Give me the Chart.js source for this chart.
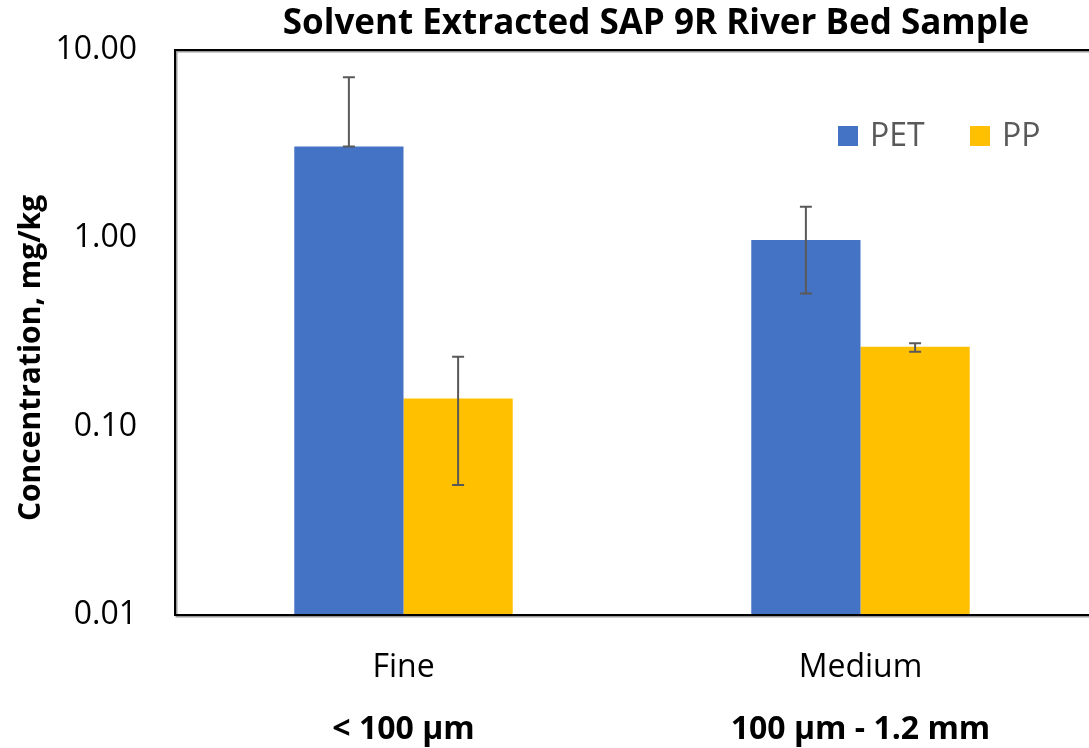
<!DOCTYPE html>
<html>
<head>
<meta charset="utf-8">
<script src="https://cdn.jsdelivr.net/npm/chart.js@4"></script>
<style>
  html, body { margin: 0; background: #fff; }
  #wrap { width: 1089px; height: 748px; }
</style>
</head>
<body>
<div id="wrap"><canvas id="chart"></canvas></div>
<script>
const categories = ["Fine", "Medium"];
const sizeRanges = ["< 100 µm", "100 µm - 1.2 mm"];
const petValues = [3.07, 0.98];
const petHigh = [7.16, 1.47];
const petLow = [3.07, 0.51];
const ppValues = [0.141, 0.266];
const ppHigh = [0.235, 0.277];
const ppLow = [0.049, 0.250];
const yTicks = [0.01, 0.1, 1, 10];

const FONT = "'Open Sans', 'DejaVu Sans', sans-serif";

// box round the plot area, with a soft grey shadow like the original
const frame = {
  id: "frame",
  afterDatasetsDraw(chart) {
    const { ctx, chartArea: a } = chart;
    ctx.save();
    ctx.strokeStyle = "#9a9a9a";
    ctx.lineWidth = 2;
    ctx.strokeRect(a.left + 1.5, a.top + 1.5, a.right - a.left, a.bottom - a.top);
    ctx.strokeStyle = "#000";
    ctx.lineWidth = 2;
    ctx.strokeRect(a.left, a.top, a.right - a.left + 2, a.bottom - a.top);
    ctx.restore();
  }
};

// error bars from the high/low arrays
const errorBars = {
  id: "errorBars",
  afterDatasetsDraw(chart) {
    const { ctx } = chart;
    const y = chart.scales.y;
    ctx.save();
    ctx.strokeStyle = "#595959";
    ctx.lineWidth = 2;
    chart.data.datasets.forEach((ds, di) => {
      chart.getDatasetMeta(di).data.forEach((bar, i) => {
        const top = y.getPixelForValue(ds.high[i]);
        const bot = y.getPixelForValue(ds.low[i]);
        ctx.beginPath();
        ctx.moveTo(bar.x, top);
        ctx.lineTo(bar.x, bot);
        ctx.moveTo(bar.x - 6, top);
        ctx.lineTo(bar.x + 6, top);
        ctx.moveTo(bar.x - 6, bot);
        ctx.lineTo(bar.x + 6, bot);
        ctx.stroke();
      });
    });
    ctx.restore();
  }
};

// title, y axis title and legend drawn as text
const labels = {
  id: "labels",
  afterDraw(chart) {
    const { ctx } = chart;
    ctx.save();
    ctx.fillStyle = "#000";
    ctx.font = "bold 35px " + FONT;
    ctx.textAlign = "center";
    ctx.textBaseline = "middle";
    ctx.fillText("Solvent Extracted SAP 9R River Bed Sample", 656, 24);

    ctx.save();
    ctx.translate(31, 358);
    ctx.rotate(-Math.PI / 2);
    ctx.font = "bold 30px " + FONT;
    ctx.fillText("Concentration, mg/kg", 0, 0);
    ctx.restore();

    ctx.font = "32px " + FONT;
    ctx.textAlign = "left";
    const entries = [[838, 0], [970, 1]];
    entries.forEach(([x, di]) => {
      const ds = chart.data.datasets[di];
      ctx.fillStyle = ds.backgroundColor;
      ctx.fillRect(x, 126, 20, 20);
      ctx.fillStyle = "#595959";
      ctx.fillText(ds.label, x + 32, 137);
    });
    ctx.restore();
  }
};

new Chart(document.getElementById("chart"), {
  type: "bar",
  data: {
    labels: categories,
    datasets: [
      { label: "PET", data: petValues, high: petHigh, low: petLow, backgroundColor: "#4472C4" },
      { label: "PP", data: ppValues, high: ppHigh, low: ppLow, backgroundColor: "#FFC000" }
    ]
  },
  options: {
    responsive: true,
    maintainAspectRatio: false,
    animation: false,
    layout: { padding: { top: 50, right: 0, left: 0, bottom: 0 } },
    plugins: { legend: { display: false }, tooltip: { enabled: false } },
    datasets: { bar: { barPercentage: 1, categoryPercentage: 0.478 } },
    scales: {
      x: {
        type: "category",
        position: "bottom",
        grid: { display: false, drawTicks: false },
        border: { display: false },
        ticks: { color: "#000", font: { family: FONT, size: 32 }, padding: 34 },
        afterFit(s) { s.height = 80; s.paddingLeft = 0; s.paddingRight = 0; }
      },
      x2: {
        type: "category",
        position: "bottom",
        labels: sizeRanges,
        grid: { display: false, drawTicks: false },
        border: { display: false },
        ticks: { color: "#000", font: { family: FONT, size: 32, weight: "bold" }, padding: 16 },
        afterFit(s) { s.height = 53; s.paddingLeft = 0; s.paddingRight = 0; }
      },
      y: {
        type: "logarithmic",
        min: 0.01,
        max: 10,
        grid: { display: false, drawTicks: false },
        border: { display: false },
        afterBuildTicks(s) { s.ticks = yTicks.map(v => ({ value: v })); },
        ticks: {
          color: "#000",
          font: { family: FONT, size: 32 },
          padding: 38,
          callback: v => Number(v).toFixed(2)
        },
        afterFit(s) { s.width = 175; s.paddingTop = 0; s.paddingBottom = 0; }
      }
    }
  },
  plugins: [frame, errorBars, labels]
});
</script>
</body>
</html>
